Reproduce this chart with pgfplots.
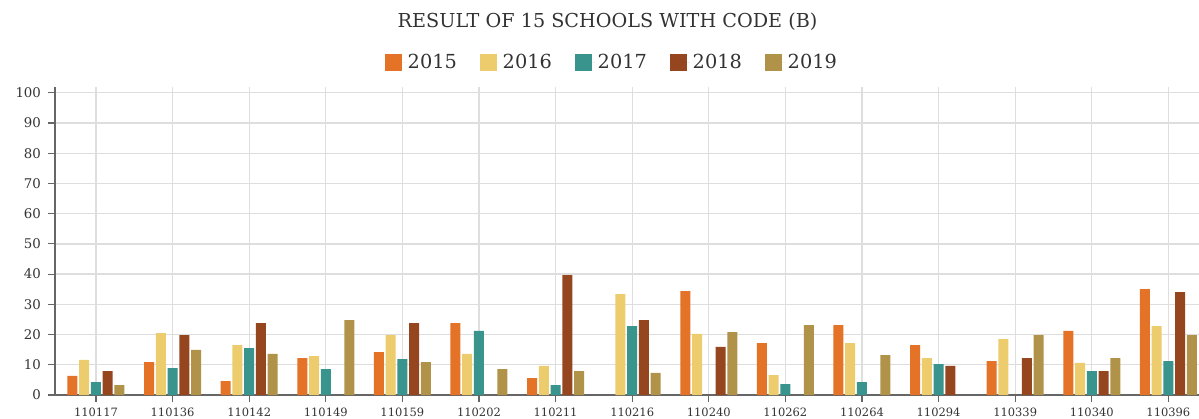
\documentclass[border=0pt]{standalone}
\usepackage{fontspec}
\setmainfont{DejaVu Serif}
\usepackage{pgfplots}
\pgfplotsset{compat=1.18}
\definecolor{c15}{HTML}{E47328}
\definecolor{c16}{HTML}{EDCC6E}
\definecolor{c17}{HTML}{38948C}
\definecolor{c18}{HTML}{96461E}
\definecolor{c19}{HTML}{B09248}
\definecolor{txt}{HTML}{333333}
\definecolor{gridc}{HTML}{DEDEDE}
\definecolor{axc}{HTML}{666666}
\pgfplotsset{
    /pgfplots/ybar legend/.style={
        /pgfplots/legend image code/.code={%
            \fill[##1] (0pt,-6.25pt) rectangle (12.5pt,6.25pt);
            \path (0pt,0pt) -- (14.75pt,0pt);}},
}
\begin{document}
\begin{tikzpicture}
\useasboundingbox (0,0) rectangle (899.25pt,313.5pt);
\begin{axis}[
    at={(41.25pt,17.25pt)}, anchor=south west,
    scale only axis, width=858pt, height=231.2pt,
    clip=false,
    ybar, bar width=0.1305,
    xmin=-0.535, xmax=14.4,
    ymin=0, ymax=102,
    axis x line*=bottom, axis y line*=left,
    axis line style={axc, line width=0.9pt},
    xtick={0,...,14},
    xticklabels={110117,110136,110142,110149,110159,110202,110211,110216,110240,110262,110264,110294,110339,110340,110396},
    ytick={0,10,...,100},
    tick align=outside, major tick length=5pt,
    tick style={axc, line width=0.9pt},
    grid=major, major grid style={gridc, line width=1pt},
    xticklabel style={font=\fontsize{8.6}{10}\selectfont, text=txt, yshift=-1pt},
    yticklabel style={font=\fontsize{10}{11}\selectfont, text=txt, xshift=-2pt},
    /pgf/number format/assume math mode=true,
    legend columns=5,
    legend cell align=left,
    legend style={draw=none, fill=none, at={(0.4873,1.079)}, anchor=center,
        font=\fontsize{14.5}{16}\selectfont, text=txt,
        /tikz/every even column/.style={column sep=15.6pt}},
]
\addplot[fill=c15, draw=none, bar shift=-0.3068] coordinates {
    (0,6.3) (1,10.9) (2,4.6) (3,12.2) (4,14.2) (5,23.8) (6,5.6)
    (8,34.4) (9,17.2) (10,23.1) (11,16.5) (12,11.2) (13,21.2) (14,35.0)};
\addplot[fill=c16, draw=none, bar shift=-0.1534] coordinates {
    (0,11.6) (1,20.5) (2,16.5) (3,12.9) (4,19.8) (5,13.6) (6,9.6) (7,33.4)
    (8,20.2) (9,6.6) (10,17.2) (11,12.2) (12,18.5) (13,10.6) (14,22.8)};
\addplot[fill=c17, draw=none, bar shift=0] coordinates {
    (0,4.3) (1,8.9) (2,15.5) (3,8.6) (4,11.9) (5,21.2) (6,3.3) (7,22.8)
    (9,3.6) (10,4.3) (11,10.2) (13,7.9) (14,11.2)};
\addplot[fill=c18, draw=none, bar shift=0.1534] coordinates {
    (0,7.9) (1,19.8) (2,23.8) (4,23.8) (6,39.7) (7,24.8)
    (8,15.9) (11,9.6) (12,12.2) (13,7.9) (14,34.0)};
\addplot[fill=c19, draw=none, bar shift=0.3068] coordinates {
    (0,3.3) (1,14.9) (2,13.6) (3,24.8) (4,10.9) (5,8.6) (6,7.9) (7,7.3)
    (8,20.8) (9,23.1) (10,13.2) (12,19.8) (13,12.2) (14,19.8)};
\legend{2015,2016,2017,2018,2019}
\node[font=\fontsize{14.4}{16}\selectfont, text=txt] at (axis description cs:0.483,1.211)
    {RESULT OF 15 SCHOOLS WITH CODE (B)};
\end{axis}
\end{tikzpicture}
\end{document}
